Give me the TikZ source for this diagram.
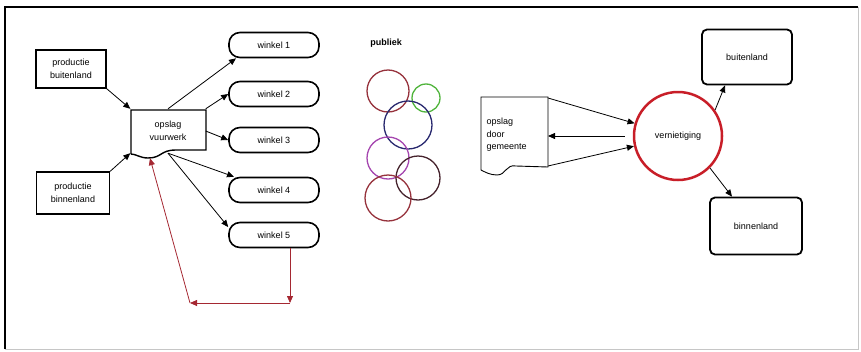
\documentclass[tikz,border=0pt]{standalone}
\usepackage{fontspec}
\setmainfont{Liberation Sans}
\usetikzlibrary{arrows.meta}
\definecolor{donkerrood}{RGB}{165,40,50}
\definecolor{helderrood}{RGB}{200,30,40}
\definecolor{bruinrood}{RGB}{150,50,60}
\definecolor{kringgroen}{RGB}{80,180,60}
\definecolor{kringblauw}{RGB}{40,40,110}
\definecolor{kringpaars}{RGB}{165,70,175}
\definecolor{kringdonker}{RGB}{70,35,45}

\begin{document}
\begin{tikzpicture}[x=1pt,y=-1pt,
  font=\fontsize{9}{12.5}\selectfont,
  kader/.style={draw=black, line width=1.4pt, minimum width=70pt, minimum height=38pt, align=center, inner sep=1pt},
  winkel/.style={draw=black, line width=1.6pt, rounded corners=11pt, minimum width=90pt, minimum height=25pt},
  land/.style={draw=black, line width=1.8pt, rounded corners=5pt, minimum width=90pt, minimum height=55pt},
  pijl/.style={-{Triangle[length=7pt,width=6pt]}, line width=0.8pt},
  roodpijl/.style={pijl, draw=donkerrood},
  kring/.style={circle, draw, line width=1.3pt, inner sep=0pt}]
\useasboundingbox (0,0) rectangle (861,351);
% kader
\draw [line width=1.5pt] (5,349) -- (5,7) -- (858,7);
\draw [gray!45, line width=1pt] (5,349) -- (858,349) -- (858,7);

% links: productie, opslag en winkels
\node [kader] (prodbui) at (71,69) {productie\\buitenland};
\node [kader, minimum width=73pt, minimum height=42pt] (prodbin) at (73,193) {productie\\binnenland};
\node [minimum width=75pt, minimum height=44pt, align=center] (vuurwerk) at (168,131) {opslag\\vuurwerk};
\draw [line width=1.4pt] (131,154) -- (131,110) -- (206,110) -- (206,150)
  -- (176,150) .. controls (160,150) and (162,158) .. (148,158)
  .. controls (140,158) and (136,154) .. (131,154);
\node [winkel] (w1) at (274,45) {winkel 1};
\node [winkel] (w2) at (274,94) {winkel 2};
\node [winkel] (w3) at (274,140) {winkel 3};
\node [winkel] (w4) at (274,190) {winkel 4};
\node [winkel] (w5) at (274,235) {winkel 5};
\draw [pijl] (prodbui.south east) -- (vuurwerk.north west);
\draw [pijl] (prodbin.north east) -- (vuurwerk.south west);
\draw [pijl] (vuurwerk.north) -- ([xshift=-38pt]w1.south);
\draw [pijl] (vuurwerk.north east) -- (w2.west);
\draw [pijl] (vuurwerk.east) -- (w3.west);
\draw [pijl] (vuurwerk.south) -- ([xshift=-40pt]w4.north);
\draw [pijl] (vuurwerk.south) -- ([yshift=8pt]w5.west);
\coordinate (hoekR) at (290,303);
\coordinate (hoekL) at (190,303);
\draw [roodpijl] ([xshift=16pt]w5.south) -- (hoekR);
\draw [roodpijl] (hoekR) -- (hoekL);
\draw [roodpijl] (hoekL) -- ([xshift=-18pt,yshift=-5pt]vuurwerk.south);

% midden: publiek
\node [font=\fontsize{9}{11}\selectfont\bfseries] (publiek) at (386,43) {publiek};
\node [kring, draw=bruinrood, minimum size=42pt] (k1) at (388,91) {};
\node [kring, draw=kringgroen, minimum size=28pt] (k2) at (426,98) {};
\node [kring, draw=kringblauw, minimum size=48pt] (k3) at (408,125) {};
\node [kring, draw=kringpaars, minimum size=42pt] (k4) at (388,158) {};
\node [kring, draw=kringdonker, minimum size=44pt] (k5) at (418,178) {};
\node [kring, draw=bruinrood, minimum size=46pt] (k6) at (388,198) {};

% rechts: gemeente en vernietiging
\draw [line width=0.9pt] (481,170) -- (481,97) -- (548,97) -- (548,167)
  -- (516,166) .. controls (506,164) and (506,175) .. (497,175)
  .. controls (490,175) and (485,172) .. (481,170);
\node [anchor=west, align=left] (gemeente) at (483,135) {opslag\\door\\gemeente};
\coordinate (g-ne) at (548,98);
\coordinate (g-e) at (548,136);
\coordinate (g-se) at (548,166);
\node [circle, draw=helderrood, line width=2.5pt, minimum size=88pt] (vern) at (678,136) {vernietiging};
\node [land] (buiten) at (747,57) {buitenland};
\node [land, minimum width=92pt, minimum height=57pt] (binnen) at (756,226) {binnenland};
\draw [pijl] (g-ne) -- (vern);
\draw [pijl] ([xshift=-8pt]vern.west) -- (g-e);
\draw [pijl] (g-se) -- (vern);
\draw [pijl] (vern.35) -- ([xshift=-22pt]buiten.south);
\draw [pijl] (vern.-45) -- ([xshift=-24pt]binnen.north);
\end{tikzpicture}
\end{document}
